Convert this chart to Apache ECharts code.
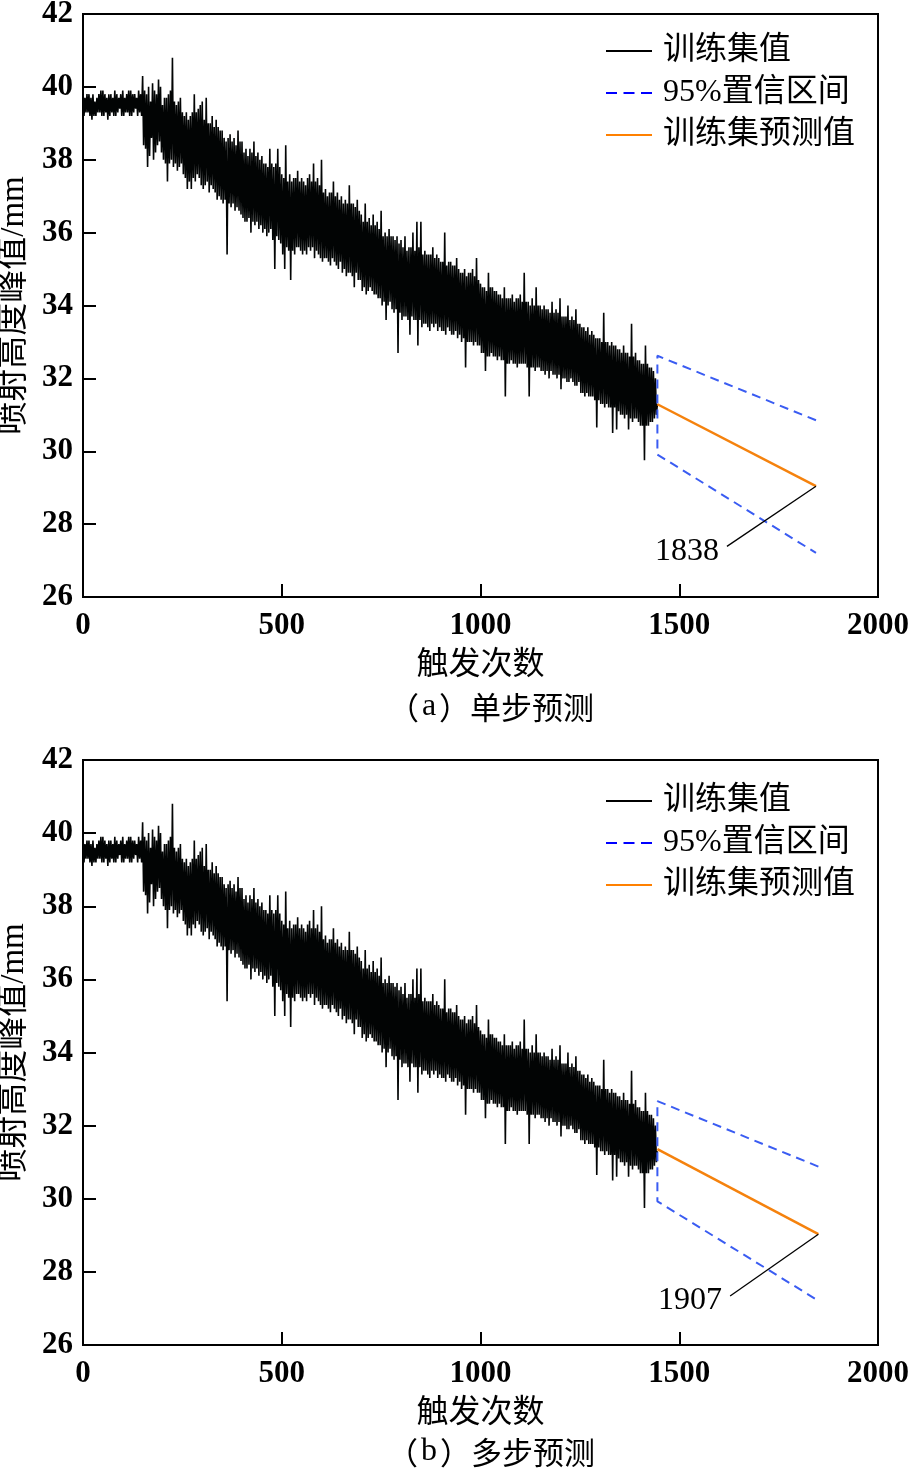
<!DOCTYPE html>
<html>
<head>
<meta charset="utf-8">
<script src="https://cdn.jsdelivr.net/npm/echarts@6/dist/echarts.min.js"></script>
<style>
  html, body { margin: 0; padding: 0; background: #fff; }
  #chart { width: 911px; height: 1468px; }
</style>
</head>
<body>
<div id="chart"></div>
<script>
// ---- data ----
const trainStep = 2.5; // one sample every 2.5 trigger counts, starting at 0 (rows = 50 counts)
const trainValues = [
  39.9, 39.2, 39.7, 39.3, 39.8, 39.3, 39.8, 39.2, 39.7, 39.1, 39.8, 39.2, 39.6, 39.2, 39.7, 39.3, 39.8, 39.3, 39.9, 39.2,
  39.9, 39.2, 39.8, 39.3, 39.7, 39.1, 39.8, 39.2, 39.8, 39.3, 39.7, 39.2, 39.9, 39.2, 39.8, 39.3, 39.7, 39.4, 39.8, 39.2,
  39.9, 39.2, 39.7, 39.3, 39.8, 39.3, 39.9, 39.2, 39.9, 39.2, 39.8, 39.3, 39.8, 39.4, 39.7, 39.2, 39.9, 39.3, 39.8, 39.2,
  40.3, 38.4, 39.9, 38.3, 39.8, 37.8, 40.0, 38.1, 39.6, 38.6, 40.1, 38.0, 39.9, 38.2, 39.8, 38.4, 40.2, 38.5, 40.0, 38.2,
  39.5, 38.0, 39.7, 37.9, 39.7, 37.4, 39.8, 37.9, 39.9, 38.0, 40.8, 37.8, 39.6, 37.9, 39.5, 37.7, 39.6, 37.8, 39.7, 37.9,
  39.3, 37.6, 39.2, 37.5, 39.3, 37.2, 39.1, 37.4, 39.2, 37.2, 39.3, 37.5, 39.8, 37.4, 39.3, 37.6, 39.4, 37.5, 39.5, 37.3,
  39.6, 37.2, 39.1, 37.3, 39.7, 37.4, 39.0, 37.1, 39.0, 37.3, 39.2, 37.2, 38.9, 37.1, 39.1, 36.9, 38.9, 37.0, 38.8, 36.9,
  38.8, 36.8, 38.6, 36.9, 38.5, 35.4, 38.6, 36.8, 38.7, 36.7, 38.5, 36.8, 38.6, 36.6, 38.4, 36.7, 38.8, 36.6, 38.5, 36.5,
  38.5, 36.4, 38.2, 36.3, 38.3, 36.3, 38.1, 36.4, 38.3, 36.0, 38.2, 36.3, 38.5, 36.2, 38.1, 36.3, 38.2, 36.1, 38.0, 36.2,
  38.1, 36.0, 37.9, 36.1, 37.9, 35.9, 37.8, 36.0, 38.3, 36.1, 37.9, 35.8, 37.8, 35.0, 37.9, 35.9, 38.3, 35.8, 37.8, 35.7,
  37.6, 35.4, 37.5, 35.0, 38.4, 35.6, 37.4, 35.5, 37.6, 34.7, 37.4, 35.5, 37.5, 35.4, 37.5, 35.6, 37.7, 35.6, 37.4, 35.5,
  37.5, 35.4, 37.4, 35.5, 37.3, 35.4, 37.5, 35.6, 37.6, 35.5, 37.4, 35.6, 37.9, 35.3, 37.4, 35.5, 37.5, 35.4, 37.3, 35.3,
  38.0, 35.2, 37.1, 35.3, 37.2, 35.3, 37.0, 35.2, 37.1, 35.1, 37.1, 35.3, 37.4, 35.2, 37.0, 35.1, 37.1, 35.0, 36.9, 35.2,
  37.0, 34.9, 36.8, 35.0, 36.9, 34.8, 36.8, 34.9, 37.3, 34.9, 36.8, 34.8, 36.8, 34.5, 36.7, 34.9, 36.9, 34.7, 36.6, 34.7,
  36.5, 34.4, 36.3, 34.5, 36.8, 34.3, 36.3, 34.4, 36.4, 34.5, 36.2, 34.4, 36.5, 34.3, 36.2, 34.3, 36.3, 34.2, 36.1, 34.2,
  36.6, 34.0, 35.9, 34.1, 36.0, 33.6, 35.9, 34.0, 36.1, 34.1, 35.9, 33.9, 35.9, 33.8, 35.8, 33.9, 35.9, 32.7, 35.7, 33.8,
  35.8, 33.6, 35.6, 33.7, 35.9, 33.7, 35.5, 33.6, 35.6, 33.2, 35.6, 33.7, 36.0, 33.6, 35.5, 33.6, 36.3, 32.9, 35.6, 33.6,
  36.3, 33.4, 35.4, 33.5, 35.5, 33.5, 35.4, 33.4, 35.4, 33.3, 35.4, 33.5, 35.6, 33.4, 35.3, 33.5, 35.4, 33.3, 35.3, 33.4,
  35.2, 33.3, 35.2, 33.3, 36.0, 33.2, 35.1, 33.4, 35.2, 33.3, 35.2, 33.2, 35.1, 33.2, 35.1, 33.3, 35.3, 33.1, 35.0, 33.2,
  34.9, 33.0, 34.9, 33.1, 35.0, 32.3, 34.8, 33.0, 34.9, 33.0, 34.9, 33.0, 35.0, 32.9, 34.8, 33.0, 35.3, 32.9, 34.7, 32.9,
  34.6, 32.7, 34.5, 32.7, 34.5, 32.2, 34.4, 32.6, 34.9, 32.6, 34.5, 32.7, 34.5, 32.6, 34.4, 32.6, 34.4, 32.5, 34.3, 32.6,
  34.3, 32.5, 34.2, 32.5, 34.5, 31.5, 34.2, 32.4, 34.2, 32.4, 34.2, 32.5, 34.3, 32.4, 34.1, 32.4, 34.2, 32.3, 34.2, 32.4,
  34.3, 32.4, 34.1, 32.4, 34.9, 32.4, 34.1, 32.3, 34.1, 31.5, 34.0, 32.3, 34.2, 32.3, 34.0, 32.2, 34.5, 32.3, 34.0, 32.3,
  34.0, 32.2, 33.9, 32.2, 34.0, 32.1, 33.9, 32.2, 33.9, 32.0, 33.8, 32.2, 34.1, 32.1, 33.8, 32.1, 33.9, 32.0, 33.8, 32.1,
  34.2, 31.7, 33.7, 32.0, 33.7, 32.0, 33.7, 31.9, 34.0, 31.9, 33.6, 32.0, 33.7, 31.9, 33.6, 31.8, 33.9, 31.8, 33.5, 31.9,
  33.5, 31.6, 33.4, 31.6, 33.4, 31.5, 33.3, 31.6, 33.4, 31.5, 33.2, 31.5, 33.3, 31.5, 33.2, 31.4, 33.1, 30.65, 33.1, 31.4,
  33.1, 31.3, 33.0, 31.3, 33.8, 31.2, 33.0, 31.3, 33.0, 31.2, 32.9, 31.2, 33.0, 30.5, 32.9, 31.2, 32.9, 30.6, 32.8, 31.1,
  32.8, 31.0, 32.7, 31.0, 32.9, 30.9, 32.7, 31.0, 32.7, 30.6, 32.6, 30.9, 33.5, 30.8, 32.6, 30.9, 32.7, 30.9, 32.5, 30.8,
  32.5, 30.7, 32.4, 30.7, 32.4, 29.75, 32.9, 30.7, 32.4, 30.7, 32.3, 30.8, 32.3, 30.8, 32.2, 30.9, 32.0, 31.0, 31.3
];

// panel (a) single-step prediction
const predXA = [1445, 1844];
const predA = [31.29, 29.04];
const upperA = [32.62, 30.85];
const lowerA = [29.91, 27.21];
const noteA = { label: '1838', from: [1844, 29.04], to: [1620, 27.39] };

// panel (b) multi-step prediction
const predXB = [1445, 1850];
const predB = [31.36, 29.03];
const upperB = [32.67, 30.88];
const lowerB = [29.93, 27.21];
const noteB = { label: '1907', from: [1850, 29.03], to: [1628, 27.34] };

const xTicks = { min: 0, max: 2000, interval: 500 };
const yTicks = { min: 26, max: 42, interval: 2 };

const seriesNames = ['训练集值', '95%置信区间', '训练集预测值'];
const captions = ['（a）单步预测', '（b）多步预测'];
const xName = '触发次数';
const yName = '喷射高度峰值/mm';

// ---- build ----
const trainData = trainValues.map((v, i) => [i * trainStep, v]);
const NUM = 'Liberation Serif, Times New Roman, serif';
const CJK = 'Liberation Serif, Noto Sans CJK SC, serif';
const CJK_ONLY = 'Noto Sans CJK SC, sans-serif';

function pairs(xs, ys) { return xs.map((x, i) => [x, ys[i]]); }

function bandData(xs, up, lo) {
  // upper end -> upper start -> lower start -> lower end
  return [[xs[1], up[1]], [xs[0], up[0]], [xs[0], lo[0]], [xs[1], lo[1]]];
}

function richCaption(s) {
  return s.replace(/（(.)）/, '{p|（}{l|$1}{p|）}');
}

const grids = [
  { left: 83, right: 33, top: 14, height: 583 },
  { left: 83, right: 33, top: 760, height: 585 }
];

function xAxisFor(i) {
  return {
    type: 'value', gridIndex: i, min: xTicks.min, max: xTicks.max, interval: xTicks.interval,
    name: xName, nameLocation: 'middle', nameGap: 53,
    nameTextStyle: { fontFamily: CJK, fontSize: 32, color: '#000' },
    axisLine: { show: true, lineStyle: { color: '#000', width: 2 } },
    axisTick: { show: true, inside: true, length: 13, lineStyle: { color: '#000', width: 2 } },
    axisLabel: { fontFamily: NUM, fontWeight: 'bold', fontSize: 31, color: '#000', margin: 13,
                 formatter: v => String(v) },
    splitLine: { show: false }
  };
}
function yAxisFor(i) {
  return {
    type: 'value', gridIndex: i, min: yTicks.min, max: yTicks.max, interval: yTicks.interval,
    name: yName, nameLocation: 'middle', nameGap: 46, nameRotate: 90,
    nameTextStyle: { fontFamily: CJK, fontSize: 33, color: '#000' },
    axisLine: { show: true, lineStyle: { color: '#000', width: 2 } },
    axisTick: { show: true, inside: true, length: 13, lineStyle: { color: '#000', width: 2 } },
    axisLabel: { fontFamily: NUM, fontWeight: 'bold', fontSize: 31, color: '#000', margin: 10,
                 formatter: v => String(v) },
    splitLine: { show: false }
  };
}

function panelSeries(i, px, pred, up, lo, note) {
  return [
    {
      name: seriesNames[0], type: 'line', xAxisIndex: i, yAxisIndex: i,
      data: trainData, symbol: 'none', silent: true, animation: false,
      lineStyle: { color: '#020404', width: 1.6, join: 'bevel' }, itemStyle: { color: '#000' }, z: 2
    },
    {
      name: seriesNames[1], type: 'line', xAxisIndex: i, yAxisIndex: i,
      data: bandData(px, up, lo), symbol: 'none', silent: true, animation: false,
      lineStyle: { color: '#3a5cf2', width: 2, type: [9, 6] }, itemStyle: { color: '#0000ff' }, z: 3
    },
    {
      name: seriesNames[2], type: 'line', xAxisIndex: i, yAxisIndex: i,
      data: pairs(px, pred), symbol: 'none', silent: true, animation: false,
      lineStyle: { color: '#f5820d', width: 2.5 }, itemStyle: { color: '#ff8000' }, z: 4
    },
    {
      name: 'note' + i, type: 'line', xAxisIndex: i, yAxisIndex: i,
      symbol: 'circle', symbolSize: 0.1, showSymbol: true, silent: true, animation: false,
      lineStyle: { color: '#000', width: 1.3 }, itemStyle: { color: '#000' }, z: 5,
      data: [
        { value: note.from },
        { value: note.to, label: {
            show: true, position: 'left', distance: 8, offset: [0, 5],
            formatter: note.label, fontFamily: NUM, fontSize: 32, color: '#000'
        } }
      ]
    }
  ];
}

const SOLID_ICON = 'path://M0,0h46v2h-46z';
const DASH_ICON = 'path://M0,0h11v2h-11zM17.5,0h11v2h-11zM35,0h11v2h-11z';

function legendFor(top) {
  return {
    show: true, orient: 'vertical', left: 606, top: top, padding: 0,
    data: [
      { name: seriesNames[0], icon: SOLID_ICON },
      { name: seriesNames[1], icon: DASH_ICON },
      { name: seriesNames[2], icon: SOLID_ICON }
    ],
    itemWidth: 46, itemHeight: 2, itemGap: 10, selectedMode: false,
    textStyle: { fontFamily: CJK, fontSize: 32, color: '#000', lineHeight: 32, padding: [0, 0, 0, 6] }
  };
}

function captionTitle(text, top) {
  return {
    text: richCaption(text), left: 486, top: top, textAlign: 'center',
    textStyle: {
      fontFamily: CJK_ONLY, fontSize: 31, fontWeight: 'normal', color: '#000',
      rich: {
        p: { fontFamily: CJK_ONLY, fontSize: 31, color: '#000' },
        l: { fontFamily: NUM, fontSize: 32, color: '#000', padding: [0, 3] }
      }
    }
  };
}

const option = {
  backgroundColor: '#fff',
  animation: false,
  grid: grids.map(g => Object.assign({
    show: true, borderColor: '#000', borderWidth: 2, backgroundColor: 'transparent',
    containLabel: false, outerBoundsMode: 'none'
  }, g)),
  xAxis: [xAxisFor(0), xAxisFor(1)],
  yAxis: [yAxisFor(0), yAxisFor(1)],
  legend: [legendFor(35), legendFor(785)],
  title: [captionTitle(captions[0], 686), captionTitle(captions[1], 1431)],
  series: [
    ...panelSeries(0, predXA, predA, upperA, lowerA, noteA),
    ...panelSeries(1, predXB, predB, upperB, lowerB, noteB)
  ]
};

const chart = echarts.init(document.getElementById('chart'), null, { renderer: 'canvas' });
chart.setOption(option);
</script>
</body>
</html>
